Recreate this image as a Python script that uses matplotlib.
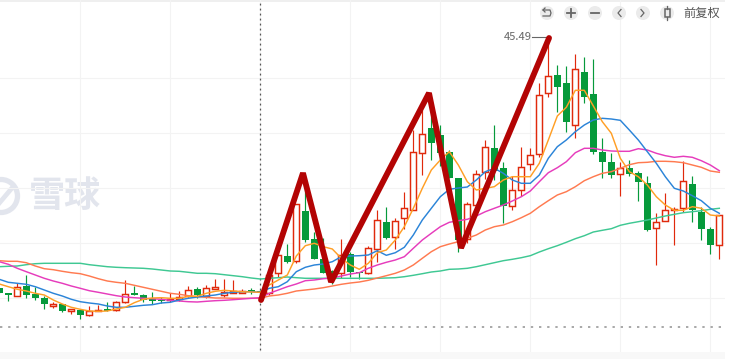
import matplotlib
matplotlib.use("Agg")
import matplotlib.pyplot as plt
import numpy as np
from matplotlib.patches import Circle, Rectangle

plt.rcParams["font.family"] = ["Noto Sans CJK SC", "DejaVu Sans"]

# daily candles
opens = [20.36, 19.92, 19.62, 20.62, 19.79, 19.39, 18.59, 18.76, 18.12, 18.19,
         17.72, 18.06, 18.26, 18.16, 19.02, 19.89, 19.66, 19.32, 19.22, 19.19,
         19.32, 19.59, 20.26, 19.59, 20.32, 19.72, 19.92, 19.92, 20.16, 20.06,
         19.86, 21.86, 23.56, 23.12, 28.09, 25.29, 23.26, 22.09, 21.92, 23.79,
         21.99, 21.92, 24.26, 26.96, 25.46, 27.42, 28.22, 33.86, 36.39, 35.69,
         33.96, 31.36, 25.26, 28.66, 32.02, 34.39, 32.39, 28.62, 30.19, 32.76,
         33.76, 39.86, 41.69, 40.89, 36.66, 41.99, 39.79, 33.96, 32.99, 31.76,
         32.39, 31.89, 30.89, 26.36, 27.06, 28.16, 28.36, 30.79, 27.99, 26.29,
         24.66]
closes = [19.92, 19.72, 20.46, 19.72, 19.39, 18.82, 18.76, 18.12, 18.26, 17.72,
          18.06, 18.16, 18.09, 18.96, 19.82, 19.72, 19.22, 19.12, 19.12, 19.32,
          19.52, 20.22, 19.69, 20.42, 20.46, 19.96, 20.06, 20.09, 19.96, 19.86,
          21.69, 23.66, 23.02, 28.76, 25.19, 23.32, 21.92, 21.59, 23.66, 21.99,
          21.86, 24.36, 27.16, 25.42, 27.06, 28.36, 33.96, 35.76, 34.89, 33.92,
          31.42, 25.19, 28.76, 31.76, 34.46, 32.09, 28.62, 30.16, 32.46, 33.66,
          39.66, 41.56, 40.52, 37.02, 42.26, 39.52, 34.02, 32.99, 31.69, 32.36,
          31.79, 31.02, 26.22, 26.96, 28.16, 28.29, 31.06, 28.19, 26.32, 24.72,
          27.66]
highs = [20.39, 19.92, 20.86, 21.69, 20.52, 19.62, 18.99, 18.76, 18.26, 18.26,
         18.56, 18.66, 18.99, 19.12, 21.19, 20.62, 19.76, 19.96, 19.52, 19.86,
         20.09, 20.59, 20.46, 20.69, 21.26, 21.26, 21.16, 20.26, 20.36, 20.19,
         21.89, 23.89, 24.76, 28.79, 31.69, 25.96, 25.42, 22.19, 25.26, 23.99,
         21.99, 24.62, 28.19, 28.52, 27.42, 29.96, 36.19, 38.19, 38.19, 36.69,
         34.19, 31.39, 29.02, 32.19, 35.19, 36.69, 33.02, 31.59, 34.46, 34.36,
         40.86, 45.49, 42.69, 42.59, 43.76, 43.46, 43.26, 35.36, 33.86, 32.96,
         33.19, 32.12, 31.62, 27.86, 29.86, 28.46, 33.12, 31.62, 28.46, 26.46,
         27.66]
lows = [19.89, 19.12, 19.59, 19.42, 19.19, 18.32, 18.39, 17.99, 17.82, 17.32,
        17.62, 18.06, 18.09, 18.12, 18.86, 19.69, 19.02, 18.79, 18.86, 18.96,
        19.12, 19.52, 19.36, 19.42, 20.32, 19.46, 19.86, 19.86, 19.76, 19.79,
        19.69, 21.52, 22.92, 22.92, 25.02, 23.26, 21.86, 20.79, 21.36, 21.52,
        21.29, 21.79, 23.02, 25.26, 24.32, 26.26, 28.19, 31.72, 33.19, 32.62,
        31.42, 24.02, 24.92, 28.66, 31.26, 31.19, 26.86, 28.19, 29.62, 32.19,
        33.49, 39.52, 38.02, 36.02, 35.36, 38.86, 33.82, 31.36, 31.42, 29.62,
        31.62, 29.12, 26.12, 22.72, 27.06, 24.72, 27.96, 27.02, 25.22, 23.82,
        23.32]

# moving averages
ma5 = [20.79, 20.52, 20.26, 20.09, 19.86, 19.69, 19.19, 18.79, 18.46, 18.26,
       18.09, 18.06, 18.09, 18.29, 18.46, 18.92, 19.26, 19.39, 19.42, 19.36,
       19.36, 19.56, 19.56, 19.86, 20.06, 20.16, 20.09, 20.02, 19.99, 19.96,
       20.69, 21.19, 21.69, 23.59, 24.62, 24.86, 24.52, 24.29, 23.36, 22.69,
       22.26, 22.86, 23.92, 24.19, 25.19, 26.52, 28.36, 30.36, 32.19, 33.19,
       34.02, 32.69, 31.02, 30.19, 30.36, 30.52, 31.19, 31.52, 31.52, 31.52,
       32.86, 35.19, 37.59, 38.46, 40.16, 40.16, 38.59, 37.02, 35.86, 33.36,
       32.02, 31.52, 30.69, 29.52, 28.69, 28.16, 28.16, 28.52, 28.36, 27.69,
       27.59]
ma10 = [21.26, 20.96, 20.86, 20.76, 20.52, 20.19, 19.86, 19.59, 19.26, 19.02,
        18.89, 18.79, 18.59, 18.46, 18.46, 18.56, 18.66, 18.72, 18.89, 18.96,
        19.19, 19.36, 19.49, 19.59, 19.69, 19.86, 19.96, 20.02, 20.02, 19.96,
        20.36, 20.52, 21.02, 22.02, 22.46, 22.69, 22.79, 23.02, 23.52, 23.59,
        23.62, 23.69, 24.12, 23.66, 23.92, 24.46, 25.69, 27.19, 28.36, 29.52,
        30.26, 30.39, 30.49, 31.19, 32.02, 32.36, 31.86, 31.19, 30.86, 30.86,
        31.69, 33.36, 34.52, 35.19, 36.02, 36.69, 37.19, 37.36, 37.29, 37.16,
        36.19, 35.19, 34.02, 32.86, 31.52, 30.36, 30.09, 29.62, 29.12, 28.36,
        27.86]
ma20 = [23.02, 22.76, 22.36, 22.02, 21.69, 21.36, 21.09, 20.86, 20.59, 20.36,
        20.12, 19.96, 19.79, 19.62, 19.49, 19.42, 19.36, 19.32, 19.26, 19.16,
        19.09, 19.02, 18.99, 19.06, 19.12, 19.16, 19.22, 19.29, 19.36, 19.42,
        19.86, 20.19, 20.52, 20.79, 21.12, 21.19, 21.32, 21.39, 21.59, 21.79,
        21.92, 22.36, 22.69, 22.96, 23.19, 23.52, 24.36, 25.19, 25.86, 26.52,
        26.96, 27.12, 27.26, 27.59, 28.02, 28.36, 28.69, 29.09, 29.52, 30.09,
        31.02, 31.92, 32.42, 33.02, 33.92, 34.36, 34.36, 34.19, 34.09, 34.06,
        34.06, 34.32, 34.19, 33.86, 33.62, 33.46, 33.56, 33.46, 33.12, 32.69,
        32.12]
ma30 = [23.12, 23.06, 23.06, 22.92, 22.59, 22.32, 22.22, 22.06, 21.92, 21.82,
        21.59, 21.32, 21.09, 20.96, 20.86, 20.66, 20.46, 20.26, 20.06, 19.86,
        19.76, 19.62, 19.52, 19.46, 19.39, 19.39, 19.36, 19.36, 19.36, 19.36,
        19.59, 19.69, 19.86, 20.09, 20.19, 20.29, 20.42, 20.59, 20.76, 20.89,
        20.99, 21.16, 21.39, 21.62, 21.86, 22.19, 22.69, 23.36, 24.02, 24.52,
        24.79, 25.02, 25.36, 25.69, 26.19, 26.52, 26.69, 27.02, 27.42, 27.86,
        28.52, 29.12, 29.69, 30.02, 30.52, 31.12, 31.52, 31.86, 32.02, 32.36,
        32.72, 32.92, 32.96, 33.06, 33.06, 33.02, 32.92, 32.69, 32.46, 32.09,
        31.96]
ma60 = [22.52, 22.56, 22.59, 22.72, 22.82, 22.86, 22.86, 22.86, 22.86, 22.86,
        22.72, 22.62, 22.52, 22.46, 22.42, 22.39, 22.36, 22.29, 22.19, 22.09,
        22.06, 21.96, 21.86, 21.86, 21.82, 21.72, 21.62, 21.52, 21.39, 21.29,
        21.36, 21.42, 21.49, 21.42, 21.36, 21.36, 21.36, 21.36, 21.36, 21.36,
        21.36, 21.36, 21.36, 21.39, 21.42, 21.52, 21.66, 21.82, 21.99, 22.09,
        22.26, 22.29, 22.36, 22.52, 22.72, 22.92, 23.12, 23.26, 23.42, 23.62,
        23.99, 24.32, 24.62, 24.96, 25.32, 25.62, 25.99, 26.16, 26.32, 26.66,
        26.86, 27.02, 27.19, 27.39, 27.59, 27.76, 27.92, 28.02, 28.12, 28.26,
        28.36]

# hand drawn zigzag on top of the candles
zigzag_idx = [29.08, 33.74, 36.86, 47.74, 51.3, 61.08]
zigzag_price = [19.19, 31.89, 20.99, 39.89, 24.39, 45.39]

grid_prices = [41.39, 35.89, 30.39, 24.89, 19.39]
grid_idx = [9, 19, 29, 39, 49, 59, 69, 79]
cross_idx = 29
cross_price = 16.49
max_idx = 61
max_price = 45.49

UP = "#e0290c"
DOWN = "#069a3b"
MARK = "#e2e5ed"

fig = plt.figure(figsize=(7.49, 3.59), dpi=100)

# page furniture behind the chart, in pixel coordinates
ui = fig.add_axes([0, 0, 1, 1])
ui.set_xlim(0, 749)
ui.set_ylim(359, 0)
ui.axis("off")
ui.add_patch(Rectangle((0, 352), 725, 7, color="#f8f8f8", linewidth=0))
ui.add_patch(Rectangle((0, 0), 725, 2, color="#efefef", linewidth=0))

ax = fig.add_axes([0, 7 / 359, 725 / 749, 352 / 359])
ax.patch.set_alpha(0)
ax.set_xlim(0.0778, 80.63)
ax.set_ylim(13.99, 49.19)
ax.set_xticks(grid_idx)
ax.set_yticks(grid_prices)
ax.tick_params(length=0, labelleft=False, labelbottom=False)
ax.grid(True, color="#f3f3f3", linewidth=0.8)
ax.set_axisbelow(True)
for s in ax.spines.values():
    s.set_visible(False)

# watermark
ui.add_patch(Circle((1, 196), 16.5, fill=False, edgecolor=MARK, linewidth=3.8))
ui.plot([-4, 12], [207, 188], color=MARK, linewidth=3.4)
ui.text(29, 196, "雪球", fontsize=26, fontweight="bold", color=MARK, va="center", ha="left")

# candles
opens, closes, highs, lows = map(np.array, (opens, closes, highs, lows))
x = np.arange(len(opens))
up = closes >= opens
colors = np.where(up, UP, DOWN)
ax.vlines(x, lows, highs, colors=colors, linewidth=0.85, zorder=2)
bottoms = np.minimum(opens, closes)
heights = np.abs(closes - opens)
ax.bar(x[~up], heights[~up], bottom=bottoms[~up], width=0.76, color=DOWN, zorder=3)
ax.bar(x[up], heights[up], bottom=bottoms[up], width=0.66, facecolor="white",
       edgecolor=UP, linewidth=1.05, zorder=3)

ax.plot(x, ma60, color="#3fc893", linewidth=1.05, zorder=4)
ax.plot(x, ma30, color="#ff7a50", linewidth=1.05, zorder=4)
ax.plot(x, ma20, color="#e63cbc", linewidth=1.05, zorder=4)
ax.plot(x, ma10, color="#2b84d8", linewidth=1.05, zorder=4)
ax.plot(x, ma5, color="#ff9f26", linewidth=1.05, zorder=4)

# crosshair
ax.axhline(cross_price, color="#a8a8a8", linewidth=1.4, linestyle=(0, (1.2, 3)), zorder=2)
ax.vlines(cross_idx, 14.2, 49.19, color="#555555", linewidth=0.9,
          linestyles=(0, (1.5, 2.5)), zorder=2)

ax.plot(zigzag_idx, zigzag_price, color="#b30404", linewidth=4.2, zorder=6,
        solid_joinstyle="bevel", solid_capstyle="round")

# max label
ax.plot([max_idx - 1.8, max_idx], [max_price, max_price], color="#666666", linewidth=0.8, zorder=5)
ax.annotate(f"{max_price:.2f}", (max_idx - 1.8, max_price), xytext=(0, 0),
            textcoords="offset points", ha="right", va="center", fontsize=8,
            color="#666666", zorder=5)

# toolbar
top = fig.add_axes([0, 0, 1, 1], zorder=5)
top.set_xlim(0, 749)
top.set_ylim(359, 0)
top.axis("off")
top.patch.set_alpha(0)
for cx in [547, 571, 595, 619, 643, 667]:
    top.add_patch(Circle((cx, 13), 7, color="#ebebeb", linewidth=0))
icon = "#666666"
top.plot([543, 550, 551, 550, 543], [10, 10, 13, 16, 16], color=icon, linewidth=0.9)
top.plot([545, 543, 545], [8, 10, 12], color=icon, linewidth=0.9)
top.plot([567, 575], [13, 13], color=icon, linewidth=1.3)
top.plot([571, 571], [9, 17], color=icon, linewidth=1.3)
top.plot([591, 599], [13, 13], color=icon, linewidth=1.3)
top.plot([621, 618, 621], [9.5, 13, 16.5], color=icon, linewidth=0.9)
top.plot([641, 644, 641], [9.5, 13, 16.5], color=icon, linewidth=0.9)
top.add_patch(Rectangle((664.5, 9), 5, 8, fill=False, edgecolor=icon, linewidth=1.1))
top.plot([667, 667], [6, 9], color=icon, linewidth=0.9)
top.plot([667, 667], [17, 20], color=icon, linewidth=0.9)
top.text(683, 13, "前复权", fontsize=8.8, color="#555555", va="center", ha="left")

fig.savefig("out.png", dpi=100, facecolor="white")
